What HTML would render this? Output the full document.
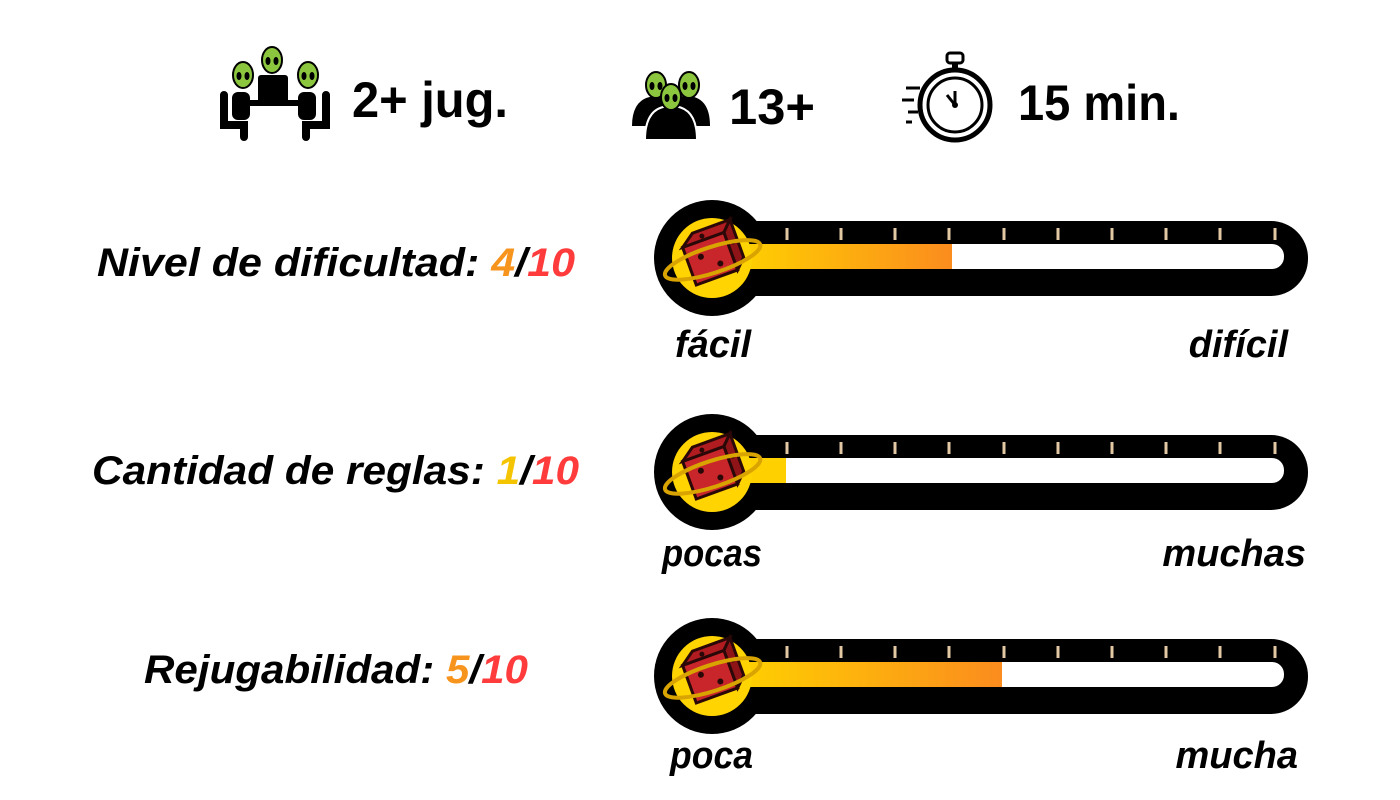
<!DOCTYPE html>
<html><head><meta charset="utf-8"><style>
html,body{margin:0;padding:0;background:#fff;}
svg{display:block}
text{font-family:"Liberation Sans",sans-serif;font-weight:bold;}
.it{font-style:italic}
</style></head><body>
<svg width="1400" height="800" viewBox="0 0 1400 800" xmlns="http://www.w3.org/2000/svg">
<defs>
<linearGradient id="g" x1="0" x2="1" y1="0" y2="0">
<stop offset="0" stop-color="#ffd000"/><stop offset="1" stop-color="#fb8c1e"/>
</linearGradient>
<g id="alien">
<ellipse cx="0" cy="0" rx="10" ry="13" fill="#8cc63f" stroke="#000" stroke-width="2"/>
<ellipse cx="-4" cy="1" rx="2.5" ry="4" fill="#000"/><ellipse cx="4" cy="1" rx="2.5" ry="4" fill="#000"/>
</g>
<g id="dice">
<circle cx="0" cy="0" r="40" fill="#ffd400"/>
<g transform="rotate(-20)">
<rect x="-24" y="-20" width="44" height="40" fill="#c8262a" stroke="#2a0808" stroke-width="3"/>
<path d="M-24 -20 L-10 -30 L30 -30 L20 -20 Z" fill="#b01c20" stroke="#2a0808" stroke-width="3"/>
<path d="M20 -20 L30 -30 L30 10 L20 20 Z" fill="#8f1418" stroke="#2a0808" stroke-width="3"/>
<circle cx="-10" cy="-5" r="3" fill="#2a0808"/><circle cx="6" cy="8" r="3" fill="#2a0808"/><circle cx="-2" cy="-24" r="2.5" fill="#2a0808"/><circle cx="25" cy="-8" r="2.5" fill="#2a0808"/>
</g>
<ellipse cx="0" cy="2" rx="50" ry="13" transform="rotate(-18)" fill="none" stroke="#d9a400" stroke-width="4"/>
</g>
</defs>

<!-- header icons -->
<g transform="translate(243,75)"><use href="#alien"/></g>
<g transform="translate(272,60)"><use href="#alien"/></g>
<g transform="translate(308,75)"><use href="#alien"/></g>
<rect x="258" y="75" width="30" height="30" fill="#000" rx="3"/>
<rect x="248" y="100" width="50" height="6" fill="#000"/>
<path d="M224 95 v30 h20 v12" fill="none" stroke="#000" stroke-width="8" stroke-linecap="round"/>
<path d="M326 95 v30 h-20 v12" fill="none" stroke="#000" stroke-width="8" stroke-linecap="round"/>
<rect x="232" y="92" width="18" height="28" rx="6" fill="#000"/>
<rect x="298" y="92" width="18" height="28" rx="6" fill="#000"/>
<text x="352" y="117" font-size="50" textLength="156" lengthAdjust="spacingAndGlyphs">2+ jug.</text>

<path d="M632 126 q0 -30 26 -30 q24 0 24 30 z" fill="#000"/>
<path d="M660 126 q0 -30 26 -30 q24 0 24 30 z" fill="#000"/>
<path d="M645 140 q0 -34 26 -34 q26 0 26 34 z" fill="#000" stroke="#fff" stroke-width="2"/>
<g transform="translate(656,85)"><use href="#alien"/></g>
<g transform="translate(689,85)"><use href="#alien"/></g>
<g transform="translate(671,97)"><use href="#alien"/></g>
<text x="729" y="124" font-size="50" textLength="86" lengthAdjust="spacingAndGlyphs">13+</text>

<circle cx="955" cy="105" r="35" fill="none" stroke="#000" stroke-width="5"/>
<circle cx="955" cy="105" r="27" fill="none" stroke="#000" stroke-width="3"/>
<rect x="947" y="53" width="16" height="10" rx="3" fill="none" stroke="#000" stroke-width="3"/>
<rect x="952" y="62" width="6" height="8" fill="#000"/>
<path d="M955 105 l-8 -10 M955 105 v-14" stroke="#000" stroke-width="3" fill="none"/>
<circle cx="955" cy="105" r="3" fill="#000"/>
<path d="M906 88 h14 M902 100 h12 M908 112 h10 M906 122 h6" stroke="#000" stroke-width="3"/>
<text x="1018" y="120" font-size="50" textLength="162" lengthAdjust="spacingAndGlyphs">15 min.</text>

<!-- labels left -->
<text class="it" x="97" y="276" font-size="40" textLength="478" lengthAdjust="spacingAndGlyphs">Nivel de dificultad: <tspan fill="#f7941d">4</tspan>/<tspan fill="#ff3b3b">10</tspan></text>
<text class="it" x="92" y="484" font-size="40" textLength="487" lengthAdjust="spacingAndGlyphs">Cantidad de reglas: <tspan fill="#f5c400">1</tspan>/<tspan fill="#ff3b3b">10</tspan></text>
<text class="it" x="144" y="683" font-size="40" textLength="384" lengthAdjust="spacingAndGlyphs">Rejugabilidad: <tspan fill="#f7941d">5</tspan>/<tspan fill="#ff3b3b">10</tspan></text>

<!-- thermometers -->
<g>
<rect x="720" y="221" width="588" height="75" rx="37" fill="#000"/>
<circle cx="712" cy="258" r="58" fill="#000"/>
<rect x="740" y="244" width="544" height="25" rx="12" fill="#fff"/>
<rect x="740" y="244" width="212" height="25" fill="url(#g)"/>
<g stroke="#e2c9a4" stroke-width="3">
<path d="M787 228v12M841 228v12M895 228v12M949 228v12M1004 228v12M1058 228v12M1112 228v12M1166 228v12M1220 228v12M1275 228v12"/>
</g>
<g transform="translate(712,258)"><use href="#dice"/></g>
</g>
<text class="it" x="675" y="357" font-size="38">fácil</text>
<text class="it" x="1288" y="357" font-size="38" text-anchor="end">difícil</text>

<g>
<rect x="720" y="435" width="588" height="75" rx="37" fill="#000"/>
<circle cx="712" cy="472" r="58" fill="#000"/>
<rect x="740" y="458" width="544" height="25" rx="12" fill="#fff"/>
<rect x="740" y="458" width="46" height="25" fill="#ffd000"/>
<g stroke="#e2c9a4" stroke-width="3">
<path d="M787 442v12M841 442v12M895 442v12M949 442v12M1004 442v12M1058 442v12M1112 442v12M1166 442v12M1220 442v12M1275 442v12"/>
</g>
<g transform="translate(712,472)"><use href="#dice"/></g>
</g>
<text class="it" x="662" y="566" font-size="38" textLength="100" lengthAdjust="spacingAndGlyphs">pocas</text>
<text class="it" x="1306" y="566" font-size="38" text-anchor="end">muchas</text>

<g>
<rect x="720" y="639" width="588" height="75" rx="37" fill="#000"/>
<circle cx="712" cy="676" r="58" fill="#000"/>
<rect x="740" y="662" width="544" height="25" rx="12" fill="#fff"/>
<rect x="740" y="662" width="262" height="25" fill="url(#g)"/>
<g stroke="#e2c9a4" stroke-width="3">
<path d="M787 646v12M841 646v12M895 646v12M949 646v12M1004 646v12M1058 646v12M1112 646v12M1166 646v12M1220 646v12M1275 646v12"/>
</g>
<g transform="translate(712,676)"><use href="#dice"/></g>
</g>
<text class="it" x="670" y="768" font-size="38" textLength="83" lengthAdjust="spacingAndGlyphs">poca</text>
<text class="it" x="1298" y="768" font-size="38" text-anchor="end">mucha</text>
</svg>
</body></html>
